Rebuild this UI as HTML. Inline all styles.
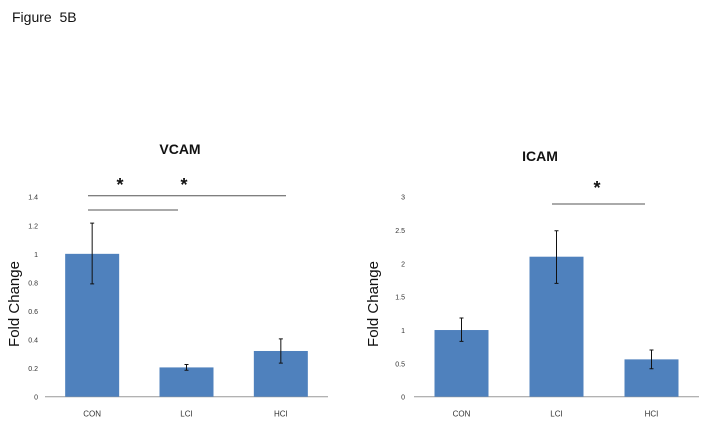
<!DOCTYPE html>
<html><head><meta charset="utf-8"><style>
body{margin:0;background:#fff;width:704px;height:422px;overflow:hidden;font-family:"Liberation Sans",sans-serif}
svg text{font-family:"Liberation Sans",sans-serif}
</style></head><body>
<svg id="s" width="704" height="422" xmlns="http://www.w3.org/2000/svg">
<text x="12" y="22" font-size="14" fill="#111">Figure &#160;5B</text>
</svg>
<script>
const categories=["CON","LCI","HCI"];
const vcamValues=[1.0,0.205,0.32];
const vcamErrHi=[1.215,0.225,0.405];
const vcamErrLo=[0.79,0.185,0.235];
const vcamTicks=["0","0.2","0.4","0.6","0.8","1","1.2","1.4"];
const icamValues=[1.0,2.1,0.56];
const icamErrHi=[1.18,2.49,0.7];
const icamErrLo=[0.83,1.7,0.42];
const icamTicks=["0","0.5","1","1.5","2","2.5","3"];
const svg=document.getElementById('s');
const NS="http://www.w3.org/2000/svg";
function mk(tag,attrs,parent){const e=document.createElementNS(NS,tag);for(const k in attrs)e.setAttribute(k,attrs[k]);(parent||svg).appendChild(e);return e;}
function chart(o){
  const g=mk('g',{});
  
  
  const y=v=>o.y0-(v/o.max)*(o.y0-o.yTop);
  const cw=(o.x1-o.x0)/categories.length;
  const x=i=>o.x0+cw*(i+0.5);
  o.ticks.forEach((t,i)=>{const v=i*o.max/(o.ticks.length-1);
    const tx=mk('text',{x:o.tickX,y:y(v)+3,'font-size':7,'text-anchor':'end',fill:'#333'},g);tx.textContent=t;
    
    });
  const ax=mk('line',{x1:o.x0,x2:o.x1,y1:o.y0,y2:o.y0,stroke:'#999','stroke-width':1},g);
  
  
  categories.forEach((c,i)=>{
    const b=mk('rect',{x:x(i)-27,y:y(o.vals[i]),width:54,height:o.y0-y(o.vals[i]),fill:'#4f81bd'},g);
    
    
    const e=mk('path',{d:`M${x(i)} ${y(o.hi[i])}V${y(o.lo[i])}M${x(i)-2} ${y(o.hi[i])}h4M${x(i)-2} ${y(o.lo[i])}h4`,stroke:'#111','stroke-width':1,fill:'none'},g);
    
    
    const t=mk('text',{x:x(i),y:o.y0+20,'font-size':8,'text-anchor':'middle',fill:'#333'},g);t.textContent=c;
    
    
  });
  const ti=mk('text',{x:o.titleX,y:o.titleY,'font-size':14,'font-weight':'bold','text-anchor':'middle',fill:'#111'},g);ti.textContent=o.title;
  
  
  const yl=mk('text',{x:0,y:0,'font-size':15,'text-anchor':'middle',fill:'#111',transform:`translate(${o.ylX},304) rotate(-90)`},g);yl.textContent='Fold Change';
  
  
  o.sig.forEach(s=>{
    const l=mk('line',{x1:s[0],x2:s[1],y1:s[2],y2:s[2],stroke:'#555','stroke-width':1},g);
    
    
  });
  o.stars.forEach(s=>{
    const a=mk('text',{x:s[0],y:s[1],'font-size':18,'font-weight':'bold','text-anchor':'middle',fill:'#111'},g);a.textContent='*';
    
    
  });
}
chart({name:'vcam-chart',title:'VCAM',vals:vcamValues,hi:vcamErrHi,lo:vcamErrLo,ticks:vcamTicks,max:1.4,x0:45,x1:328,y0:396.7,yTop:196.7,tickX:38,titleX:180,titleY:154,ylX:19,
  sig:[[88,286,195.7],[88,178,210]],stars:[[120,191],[184,191]]});
chart({name:'icam-chart',title:'ICAM',vals:icamValues,hi:icamErrHi,lo:icamErrLo,ticks:icamTicks,max:3,x0:414,x1:699,y0:396.7,yTop:196.7,tickX:405,titleX:540,titleY:161,ylX:378,
  sig:[[552,645,204]],stars:[[597,194]]});
</script>
</body></html>
